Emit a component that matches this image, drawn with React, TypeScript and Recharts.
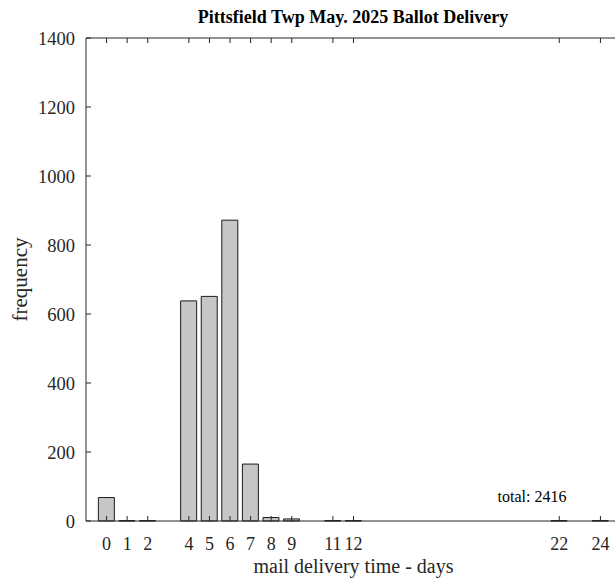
import { BarChart, Bar, XAxis, YAxis, ReferenceDot } from "recharts";

const days = [0, 1, 2, 4, 5, 6, 7, 8, 9, 11, 12, 22, 24];
const counts = [68, 1, 1, 638, 651, 872, 165, 10, 6, 1, 1, 1, 1];
const yTicks = [0, 200, 400, 600, 800, 1000, 1200, 1400];
const total = counts.reduce((a, b) => a + b, 0);

const data = days.map((d, i) => ({ day: d, count: counts[i] }));

const FONT = "'Liberation Serif', 'DejaVu Serif', serif";
const INK = "#262626";

export default function App() {
  return (
    <div
      style={{
        position: "absolute",
        left: 0,
        top: 0,
        width: 615,
        height: 580,
        overflow: "hidden",
        background: "#fff",
      }}
    >
      <BarChart
        width={640}
        height={580}
        data={data}
        margin={{ top: 18, right: 19, left: 0, bottom: 0 }}
        barCategoryGap="10%"
        style={{ fontFamily: FONT }}
      >
        <text
          x={353}
          y={23}
          textAnchor="middle"
          fontFamily={FONT}
          fontWeight="bold"
          fontSize={18}
          fill="#000"
        >
          Pittsfield Twp May. 2025 Ballot Delivery
        </text>
        <XAxis
          dataKey="day"
          type="number"
          domain={[-1, 25]}
          ticks={days}
          interval={0}
          allowDataOverflow
          height={59}
          tickSize={-5}
          tickMargin={21}
          stroke={INK}
          tick={{ fontSize: 18, fill: INK, fontFamily: FONT }}
          label={{
            content: (p: any) => (
              <text
                x={p.viewBox.x + p.viewBox.width / 2}
                y={p.viewBox.y + 52}
                textAnchor="middle"
                fontFamily={FONT}
                fontSize={20}
                fill={INK}
              >
                mail delivery time - days
              </text>
            ),
          }}
        />
        {/* top border with inward ticks, no labels */}
        <XAxis
          xAxisId="top"
          orientation="top"
          dataKey="day"
          type="number"
          domain={[-1, 25]}
          ticks={days}
          interval={0}
          allowDataOverflow
          height={20}
          tickSize={-5}
          tickLine={{ stroke: INK }}
          tick={() => <g />}
          stroke={INK}
        />
        <YAxis
          type="number"
          domain={[0, 1400]}
          ticks={yTicks}
          interval={0}
          width={86}
          tickSize={-5}
          tickMargin={16}
          stroke={INK}
          tick={{ fontSize: 18.5, fill: INK, fontFamily: FONT }}
          label={{
            content: (p: any) => {
              const cx = p.viewBox.x + 20;
              const cy = p.viewBox.y + p.viewBox.height / 2;
              return (
                <text
                  x={cx}
                  y={cy}
                  transform={`rotate(-90 ${cx} ${cy})`}
                  textAnchor="middle"
                  dominantBaseline="central"
                  fontFamily={FONT}
                  fontSize={21}
                  fill={INK}
                >
                  frequency
                </text>
              );
            },
          }}
        />
        <Bar
          dataKey="count"
          fill="#c6c6c6"
          stroke="#1a1a1a"
          strokeWidth={1}
          isAnimationActive={false}
        />
        <ReferenceDot
          x={19}
          y={70}
          shape={(p: any) => (
            <text
              x={p.cx}
              y={p.cy}
              dy="0.35em"
              fontFamily={FONT}
              fontSize={16}
              fill="#000"
            >
              total: {total}
            </text>
          )}
        />
      </BarChart>
    </div>
  );
}
